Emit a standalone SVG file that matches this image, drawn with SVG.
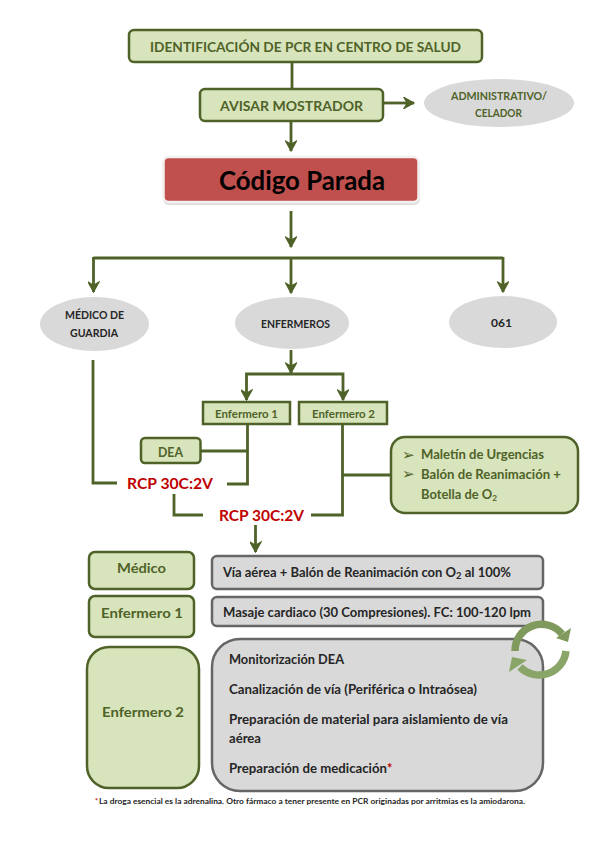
<svg xmlns="http://www.w3.org/2000/svg" width="599" height="848" viewBox="0 0 599 848">
<style>
text{font-family:Lato,"Liberation Sans",sans-serif;font-weight:700}
.g{fill:#d7e4bc;stroke:#4f6228;stroke-width:2.5}
.y{fill:#d9d9d9;stroke:#666;stroke-width:2.5}
.e{fill:#d9d9d9}
.tg{fill:#4f6228}
.tk{fill:#262626}
.tr{fill:#c00000}
.c{fill:none;stroke:#4f6228;stroke-width:2.8}
.a{marker-end:url(#arr)}
.b{font-family:"DejaVu Sans",sans-serif;font-size:15px}
</style>
<defs>
<marker id="arr" viewBox="0 0 14 12" refX="12.5" refY="6" markerWidth="14" markerHeight="12" markerUnits="userSpaceOnUse" orient="auto"><path d="M3 1L12 6L3 11L6 6Z" fill="#4f6228" stroke="#4f6228" stroke-width="1.600"/></marker>
</defs>
<rect width="599" height="848" fill="#fff"/>
<g id="connectors">
<path class="c" d="M292 62V90"/>
<path class="c a" d="M291 121V151"/>
<path class="c a" d="M383 103H414"/>
<path class="c a" d="M291 211V247"/>
<path class="c" d="M93.500 258H503"/>
<path class="c a" d="M93.500 257V292"/>
<path class="c a" d="M291 258V293"/>
<path class="c a" d="M503 257V292"/>
<path class="c a" d="M291 350V373"/>
<path class="c a" d="M291 374H246.500V400"/>
<path class="c a" d="M291 374H343V400"/>
<path class="c" d="M247.500 424V484H227"/>
<path class="c" d="M200 451H247"/>
<path class="c" d="M93 360V483H117"/>
<path class="c" d="M174 494V515H203"/>
<path class="c" d="M342.500 424V515H311"/>
<path class="c" d="M343 475H391"/>
<path class="c a" d="M255.500 525V552"/>
</g>
<g id="n-identificacion"><rect class="g" x="129" y="30" width="353" height="32" rx="5"/><text class="tg" x="150" y="52" font-size="13" textLength="311" lengthAdjust="spacingAndGlyphs">IDENTIFICACIÓN DE PCR EN CENTRO DE SALUD</text></g>
<g id="n-avisar"><rect class="g" x="200" y="89" width="183" height="32" rx="5"/><text class="tg" x="220" y="111" font-size="14" textLength="143" lengthAdjust="spacingAndGlyphs">AVISAR MOSTRADOR</text></g>
<g id="n-admin"><ellipse class="e" cx="499" cy="103" rx="75" ry="24"/><text class="tg" x="451" y="100" font-size="10.500" textLength="96" lengthAdjust="spacingAndGlyphs">ADMINISTRATIVO/</text><text class="tg" x="475" y="117" font-size="10.500" textLength="47" lengthAdjust="spacingAndGlyphs">CELADOR</text></g>
<g id="n-codigo"><rect x="163" y="158" width="257" height="47" rx="6" fill="#ddd"/><rect x="163.500" y="157" width="255" height="45" rx="5" fill="#c0504d" stroke="#f4f0f0" stroke-width="2.500"/><text x="219" y="190" font-size="26" fill="#000" textLength="166" lengthAdjust="spacingAndGlyphs">Código Parada</text></g>
<g id="n-medico-guardia"><ellipse class="e" cx="94.500" cy="324" rx="54.500" ry="27"/><text class="tk" x="65" y="319" font-size="10.500" textLength="59" lengthAdjust="spacingAndGlyphs">MÉDICO DE</text><text class="tk" x="70" y="337" font-size="10.500" textLength="48" lengthAdjust="spacingAndGlyphs">GUARDIA</text></g>
<g id="n-enfermeros"><ellipse class="e" cx="292" cy="323" rx="57" ry="26"/><text class="tk" x="261" y="328" font-size="10.500" textLength="69" lengthAdjust="spacingAndGlyphs">ENFERMEROS</text></g>
<g id="n-061"><ellipse class="e" cx="503" cy="322" rx="54" ry="26"/><text class="tk" x="491" y="327" font-size="12" textLength="21" lengthAdjust="spacingAndGlyphs">061</text></g>
<g id="n-enf1"><rect class="g" x="203" y="402" width="87" height="22"/><text class="tg" x="215" y="418" font-size="11" textLength="63" lengthAdjust="spacingAndGlyphs">Enfermero 1</text></g>
<g id="n-enf2"><rect class="g" x="299" y="402" width="88" height="22"/><text class="tg" x="312" y="418" font-size="11" textLength="63" lengthAdjust="spacingAndGlyphs">Enfermero 2</text></g>
<g id="n-dea"><rect class="g" x="141" y="438" width="59.500" height="25" rx="4"/><text class="tg" x="158" y="457" font-size="13" textLength="25" lengthAdjust="spacingAndGlyphs">DEA</text></g>
<g id="n-maletin"><rect class="g" x="391" y="437" width="187" height="76" rx="14"/>
<text class="tg b" x="402" y="460">➢</text><text class="tg" x="421" y="459" font-size="12.500" textLength="123" lengthAdjust="spacingAndGlyphs">Maletín de Urgencias</text>
<text class="tg b" x="402" y="479">➢</text><text class="tg" x="421" y="479" font-size="12.500" textLength="140" lengthAdjust="spacingAndGlyphs">Balón de Reanimación +</text>
<text class="tg" x="421" y="499" font-size="12.500" textLength="76" lengthAdjust="spacingAndGlyphs">Botella de O<tspan font-size="8" dy="2">2</tspan></text></g>
<g id="n-rcp1"><text class="tr" x="127" y="489" font-size="15.500" textLength="86" lengthAdjust="spacingAndGlyphs">RCP 30C:2V</text></g>
<g id="n-rcp2"><text class="tr" x="219" y="521" font-size="15.500" textLength="85" lengthAdjust="spacingAndGlyphs">RCP 30C:2V</text></g>
<g id="n-medico"><rect class="g" x="89" y="552" width="105" height="37" rx="6"/><text class="tg" x="117" y="573" font-size="14" textLength="49" lengthAdjust="spacingAndGlyphs">Médico</text></g>
<g id="n-enfermero1"><rect class="g" x="89" y="596" width="105" height="41" rx="6"/><text class="tg" x="101" y="618" font-size="14" textLength="82" lengthAdjust="spacingAndGlyphs">Enfermero 1</text></g>
<g id="n-enfermero2"><rect class="g" x="87" y="647" width="112" height="141" rx="22"/><text class="tg" x="102" y="717" font-size="14" textLength="82" lengthAdjust="spacingAndGlyphs">Enfermero 2</text></g>
<g id="n-via"><rect class="y" x="212" y="556" width="331" height="33" rx="5"/><text class="tk" x="223" y="577" font-size="12.500" textLength="288" lengthAdjust="spacingAndGlyphs">Vía aérea + Balón de Reanimación con O<tspan font-size="9" dy="2">2</tspan><tspan dy="-2"> al 100%</tspan></text></g>
<g id="n-masaje"><rect class="y" x="212" y="597" width="331" height="29" rx="5"/><text class="tk" x="223" y="617" font-size="12.500" textLength="308" lengthAdjust="spacingAndGlyphs">Masaje cardiaco (30 Compresiones). FC: 100-120 lpm</text></g>
<g id="n-tareas"><rect class="y" x="212" y="639" width="331" height="152" rx="28"/>
<text class="tk" x="229" y="664" font-size="12.500" textLength="115" lengthAdjust="spacingAndGlyphs">Monitorización DEA</text>
<text class="tk" x="229" y="694" font-size="12.500" textLength="248" lengthAdjust="spacingAndGlyphs">Canalización de vía (Periférica o Intraósea)</text>
<text class="tk" x="229" y="724" font-size="12.500" textLength="279" lengthAdjust="spacingAndGlyphs">Preparación de material para aislamiento de vía</text>
<text class="tk" x="229" y="743" font-size="12.500" textLength="32" lengthAdjust="spacingAndGlyphs">aérea</text>
<text class="tk" x="229" y="773" font-size="12.500" textLength="158" lengthAdjust="spacingAndGlyphs">Preparación de medicación</text><text class="tr" x="387" y="773" font-size="12.500" fill="#e00000">*</text></g>
<g id="n-ciclo" fill="#7f9a5c"><path d="M515 651A26.500 26.500 0 0 1 562 634" fill="none" stroke="#7f9a5c" stroke-width="7.500"/><path d="M571 628L568 642L556 638Z"/><path d="M566 651A27 27 0 0 1 520 667" fill="none" stroke="#8aa568" stroke-width="7.500"/><path d="M509 672L512 657L527 660Z" fill="#8aa568"/></g>
<g id="n-nota"><text class="tr" x="95" y="804" font-size="7" fill="#e00000">*</text><text class="tk" x="99" y="804" font-size="7" textLength="426" lengthAdjust="spacingAndGlyphs">La droga esencial es la adrenalina. Otro fármaco a tener presente en PCR originadas por arritmias es la amiodarona.</text></g>
</svg>
